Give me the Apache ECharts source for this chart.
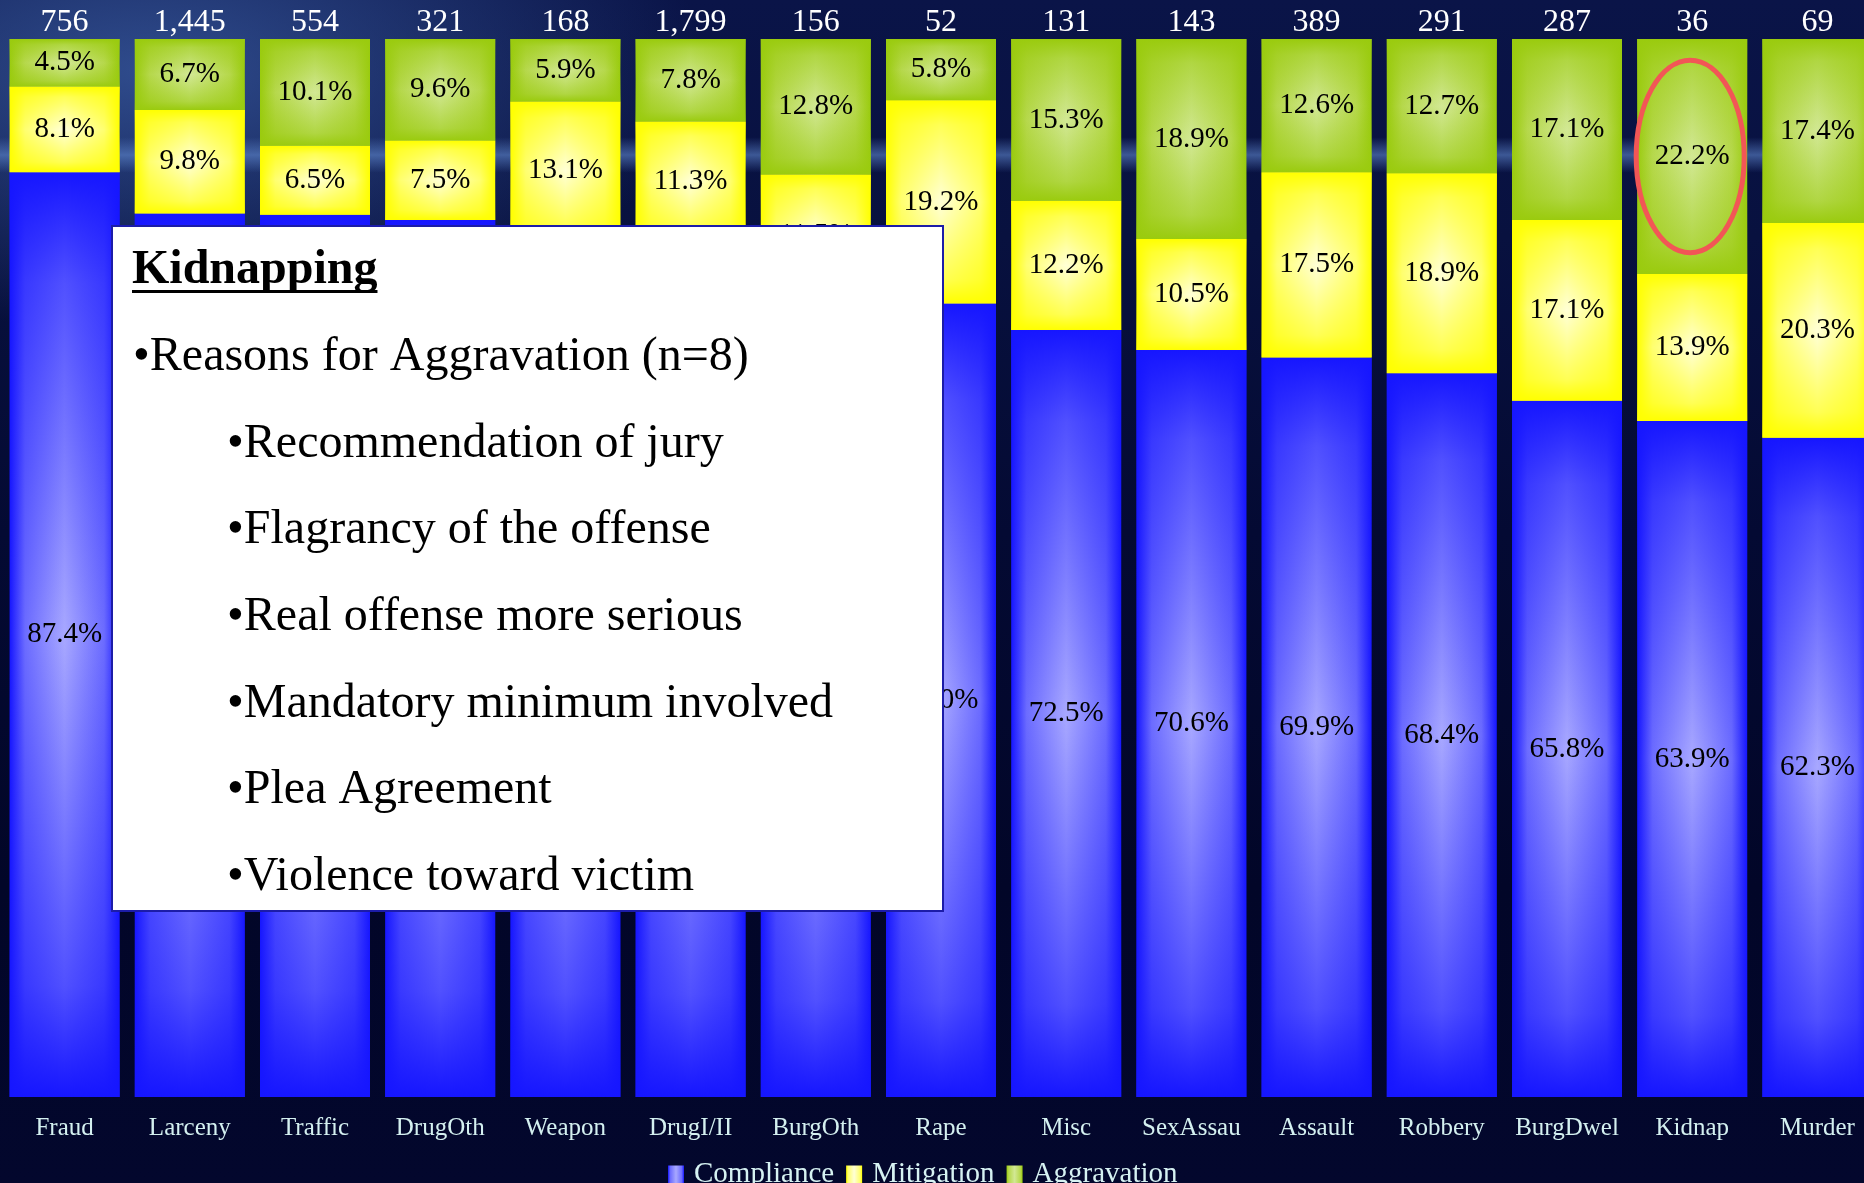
<!DOCTYPE html>
<html>
<head>
<meta charset="utf-8">
<title>Guideline compliance by offense</title>
<script src="https://cdn.jsdelivr.net/npm/echarts@6/dist/echarts.min.js"></script>
<style>
  html, body { margin: 0; padding: 0; }
  body {
    width: 1864px;
    height: 1183px;
    overflow: hidden;
    background:
      linear-gradient(180deg, rgba(0,0,0,0) 11.6%, rgba(95,135,205,0.6) 13.1%, rgba(0,0,0,0) 14.6%),
      radial-gradient(ellipse 30% 22% at 8% 6%, rgba(60,95,165,0.75), rgba(0,0,0,0)),
      linear-gradient(180deg, #0a1448 0%, #08113f 20%, #040a33 45%, #020628 75%, #03072d 100%);
  }
  #chart { width: 1864px; height: 1183px; }
</style>
</head>
<body>
<div id="chart"></div>
<script>
const categories = ["Fraud", "Larceny", "Traffic", "DrugOth", "Weapon", "DrugI/II", "BurgOth", "Rape",
  "Misc", "SexAssau", "Assault", "Robbery", "BurgDwel", "Kidnap", "Murder"];
const counts = ["756", "1,445", "554", "321", "168", "1,799", "156", "52",
  "131", "143", "389", "291", "287", "36", "69"];
const compliance = [87.4, 83.5, 83.4, 82.9, 81.0, 80.9, 75.7, 75.0, 72.5, 70.6, 69.9, 68.4, 65.8, 63.9, 62.3];
const mitigation = [8.1, 9.8, 6.5, 7.5, 13.1, 11.3, 11.5, 19.2, 12.2, 10.5, 17.5, 18.9, 17.1, 13.9, 20.3];
const aggravation = [4.5, 6.7, 10.1, 9.6, 5.9, 7.8, 12.8, 5.8, 15.3, 18.9, 12.6, 12.7, 17.1, 22.2, 17.4];

const noteTitle = "Kidnapping";
const noteLines = [
  "•Reasons for Aggravation (n=8)",
  "•Recommendation of jury",
  "•Flagrancy of the offense",
  "•Real offense more serious",
  "•Mandatory minimum involved",
  "•Plea Agreement",
  "•Violence toward victim"
];
const highlight = "Kidnap";

const FONT = '"Liberation Serif", "Times New Roman", serif';
const BAR_W = 110;

// edge colour, part-way colour, centre colour
const palette = {
  Compliance: ["#1616ff", "#6c6cff", "#a8a8ff"],
  Mitigation: ["#ffff00", "#ffff70", "#ffffd6"],
  Aggravation: ["#9acb0e", "#b6d84c", "#d2e894"]
};

function hGrad(c) {
  return { type: "linear", x: 0, y: 0, x2: 1, y2: 0,
    colorStops: [
      { offset: 0, color: c[0] }, { offset: 0.14, color: c[1] }, { offset: 0.5, color: c[2] },
      { offset: 0.86, color: c[1] }, { offset: 1, color: c[0] }
    ] };
}
function vShade(c) {
  const a = t => echarts.color.modifyAlpha(c[0], t);
  return { type: "linear", x: 0, y: 0, x2: 0, y2: 1,
    colorStops: [
      { offset: 0, color: a(1) }, { offset: 0.12, color: a(0.6) }, { offset: 0.5, color: a(0) },
      { offset: 0.88, color: a(0.6) }, { offset: 1, color: a(1) }
    ] };
}

const groups = [
  ["Compliance", compliance],
  ["Mitigation", mitigation],
  ["Aggravation", aggravation]
];

const series = [];
groups.forEach(([name, data]) => {
  series.push({
    name: name, type: "bar", stack: "base", data: data,
    barWidth: BAR_W, barGap: "-100%", z: 2, silent: true,
    itemStyle: { color: hGrad(palette[name]) }
  });
});
groups.forEach(([name, data]) => {
  series.push({
    name: name + " shade", type: "bar", stack: "shade", data: data,
    barWidth: BAR_W, barGap: "-100%", z: 3, silent: true,
    itemStyle: { color: vShade(palette[name]) },
    label: {
      show: true, position: "inside", color: "#000",
      fontFamily: FONT, fontSize: 29,
      formatter: p => p.value.toFixed(1) + "%"
    }
  });
});

const chart = echarts.init(document.getElementById("chart"), null, { renderer: "canvas" });
chart.setOption({
  backgroundColor: "transparent",
  animation: false,
  grid: { left: 2, width: 1878, top: 39, bottom: 86, containLabel: false, outerBoundsMode: "none" },
  legend: {
    data: groups.map(g => g[0]),
    left: 663, top: 1155,
    icon: "rect", itemWidth: 16, itemHeight: 18, itemGap: 12,
    textStyle: { color: "#d6f2f2", fontFamily: FONT, fontSize: 29, padding: [0, 0, 0, 5] }
  },
  xAxis: [
    {
      type: "category", data: categories, position: "bottom",
      axisLine: { show: false }, axisTick: { show: false },
      axisLabel: { color: "#d4f0f0", fontFamily: FONT, fontSize: 25, margin: 19, interval: 0 }
    },
    {
      type: "category", data: counts, position: "top",
      axisLine: { show: false }, axisTick: { show: false },
      axisLabel: { color: "#ffffff", fontFamily: FONT, fontSize: 32, margin: 0, interval: 0 }
    }
  ],
  yAxis: { type: "value", min: 0, max: 100, show: false },
  series: series
});

// note box and highlight ring
const k = categories.indexOf(highlight);
const mid = chart.convertToPixel({ xAxisIndex: 0, yAxisIndex: 0 }, [k, 100 - aggravation[k] / 2]);
const edge = chart.convertToPixel({ xAxisIndex: 0, yAxisIndex: 0 }, [k, 100 - aggravation[k] / 2 + 9.1]);

const ctx = document.createElement("canvas").getContext("2d");
ctx.font = "bold 48px " + FONT;
const titleW = ctx.measureText(noteTitle).width;

const graphics = [
  {
    type: "rect", z: 100,
    shape: { x: 112, y: 226, width: 831, height: 685 },
    style: { fill: "#ffffff", stroke: "#1c1ca8", lineWidth: 2 }
  },
  {
    type: "text", z: 101, x: 132, y: 271,
    style: { text: noteTitle, fill: "#000", font: "bold 48px " + FONT, verticalAlign: "middle" }
  },
  {
    type: "rect", z: 101,
    shape: { x: 132, y: 290, width: titleW, height: 3 },
    style: { fill: "#000" }
  },
  {
    type: "ellipse", z: 110,
    shape: { cx: mid[0] - 2, cy: mid[1], rx: BAR_W / 2 - 1, ry: mid[1] - edge[1] },
    style: { fill: null, stroke: "#f25656", lineWidth: 5 }
  }
];
noteLines.forEach((t, i) => {
  graphics.push({
    type: "text", z: 101, x: i === 0 ? 133 : 227, y: 357.5 + i * 86.6,
    style: { text: t, fill: "#000", font: "48px " + FONT, verticalAlign: "middle" }
  });
});
chart.setOption({ graphic: graphics });
</script>
</body>
</html>
